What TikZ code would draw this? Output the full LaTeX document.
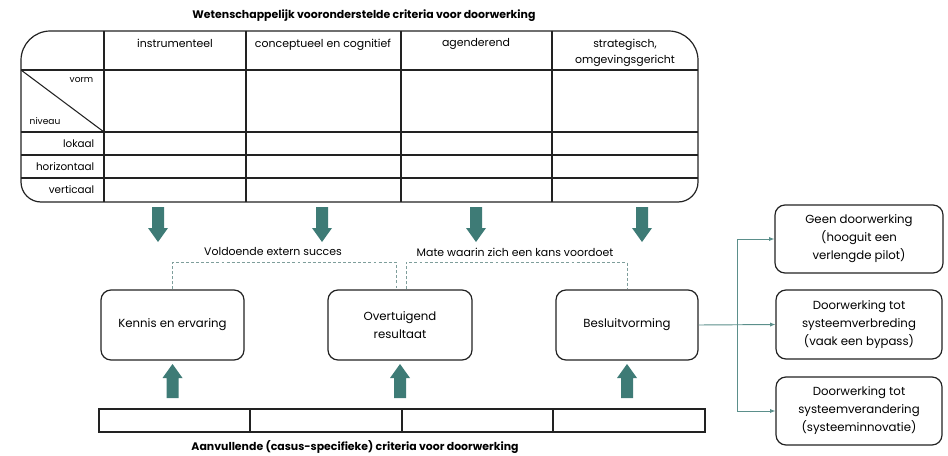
\documentclass[tikz,border=0pt]{standalone}
\usepackage{fontspec}
\setmainfont{Poppins}
\usetikzlibrary{arrows.meta,calc}
\definecolor{teal1}{HTML}{3E7B76}
\definecolor{dashc}{HTML}{7E9E9B}
\definecolor{ink}{HTML}{222222}
\tikzset{
  grid/.style={draw=ink, line width=0.9pt},
  box/.style={draw=ink, line width=0.9pt, rounded corners=7.5pt, align=center,
    font=\fontsize{8.8}{13.5}\selectfont, inner sep=0pt},
  hdr/.style={font=\fontsize{8.2}{12}\selectfont, align=center, anchor=north},
  rowlbl/.style={font=\fontsize{7.8}{9}\selectfont, anchor=east},
  small/.style={font=\fontsize{6.8}{8}\selectfont},
  ttl/.style={font=\bfseries\fontsize{8.2}{10}\selectfont},
  lbl/.style={font=\fontsize{8.2}{10}\selectfont},
  blockarrow/.style={fill=teal1, draw=none},
  dashline/.style={draw=dashc, line width=0.75pt, dash pattern=on 2.2pt off 1.6pt},
  conn/.style={draw=teal1!85, line width=0.7pt},
  barcell/.style={draw=ink, line width=0.9pt, minimum height=17.25pt, inner sep=0pt},
}
% block arrows: centre x, top y, bottom y
\newcommand\blockdown[3]{\fill[blockarrow] (#1-6,#2) -- (#1+6,#2) -- (#1+6,#3-14) -- (#1+10,#3-14) -- (#1,#3) -- (#1-10,#3-14) -- (#1-6,#3-14) -- cycle;}
\newcommand\blockup[3]{\fill[blockarrow] (#1-6,#3) -- (#1+6,#3) -- (#1+6,#2+14) -- (#1+10,#2+14) -- (#1,#2) -- (#1-10,#2+14) -- (#1-6,#2+14) -- cycle;}
\begin{document}
\begin{tikzpicture}[x=0.75pt,y=-0.75pt]
\useasboundingbox (0,0) rectangle (948,456);

% upper criteria table
\node[ttl] (toptitle) at (364,16) {Wetenschappelijk vooronderstelde criteria voor doorwerking};
\draw[grid] (21,120) [rounded corners=22pt] -- (21,31) -- (360,31)
  -- (698,31) -- (698,120) [rounded corners=15pt] -- (698,202) -- (360,202) -- (21,202) -- cycle;
\foreach \x in {104,246,401,552} \draw[grid] (\x,31) -- (\x,202);
\foreach \y in {70,132,155,178} \draw[grid] (21,\y) -- (698,\y);
\draw[grid, line width=0.8pt] (21,70) -- (104,132);

\node[hdr] (h1) at (175,34) {instrumenteel};
\node[hdr] (h2) at (323,34) {conceptueel en cognitief};
\node[hdr] (h3) at (476,34) {agenderend};
\node[hdr] (h4) at (625,34) {strategisch,\\omgevingsgericht};
\node[small, anchor=east] (vorm) at (98,80) {vorm};
\node[small, anchor=west] (niveau) at (25,121) {niveau};
\node[rowlbl] (lokaal) at (99,143.5) {lokaal};
\node[rowlbl] (horiz) at (99,166.5) {horizontaal};
\node[rowlbl] (vert) at (99,190) {verticaal};

% arrows into the middle row
\blockdown{158}{207}{242}
\blockdown{322}{207}{242}
\blockdown{476}{207}{242}
\blockdown{642}{207}{242}

% middle row of stages
\node[box, minimum width=107.25pt, minimum height=52.5pt] (kennis) at (172.5,325) {Kennis en ervaring};
\node[box, minimum width=108pt, minimum height=52.5pt] (overt) at (400,325) {Overtuigend\\resultaat};
\node[box, minimum width=106.5pt, minimum height=52.5pt] (besluit) at (627,325) {Besluitvorming};

% dashed links between stages
\draw[dashline] (kennis.north) -- ++(0,-27) -| ([xshift=-3pt]overt.north);
\draw[dashline] ([xshift=4.5pt]overt.north) -- ++(0,-27) -| (besluit.north);
\node[lbl] (succes) at (273,252) {Voldoende extern succes};
\node[lbl] (kans) at (515,252) {Mate waarin zich een kans voordoet};

% outcomes
\node[box, minimum width=126pt, minimum height=51pt] (r1) at (859,239) {Geen doorwerking\\(hooguit een\\verlengde pilot)};
\node[box, minimum width=124.5pt, minimum height=51.75pt] (r2) at (859,324.5) {Doorwerking tot\\systeemverbreding\\(vaak een bypass)};
\node[box, minimum width=124.5pt, minimum height=51pt] (r3) at (859,411) {Doorwerking tot\\systeemverandering\\(systeeminnovatie)};

\coordinate (split) at (737,325);
\draw[conn, -{Latex[length=4pt,width=3.2pt]}] (besluit.east) -- (r2.west);
\draw[conn, -{Latex[length=4pt,width=3.2pt]}] (split) |- (r1.west);
\draw[conn, -{Latex[length=4pt,width=3.2pt]}] (split) |- (r3.west);

% arrows from the lower bar
\blockup{172.5}{364}{398}
\blockup{400}{364}{398}
\blockup{627}{364}{398}

% lower criteria bar
\node[barcell, minimum width=113.25pt] (c1) at (174.5,420.5) {};
\node[barcell, minimum width=114pt] (c2) at (326,420.5) {};
\node[barcell, minimum width=113.25pt] (c3) at (477.5,420.5) {};
\node[barcell, minimum width=114pt] (c4) at (629,420.5) {};
\node[ttl] (bottitle) at (355,447) {Aanvullende (casus-specifieke) criteria voor doorwerking};
\end{tikzpicture}
\end{document}
